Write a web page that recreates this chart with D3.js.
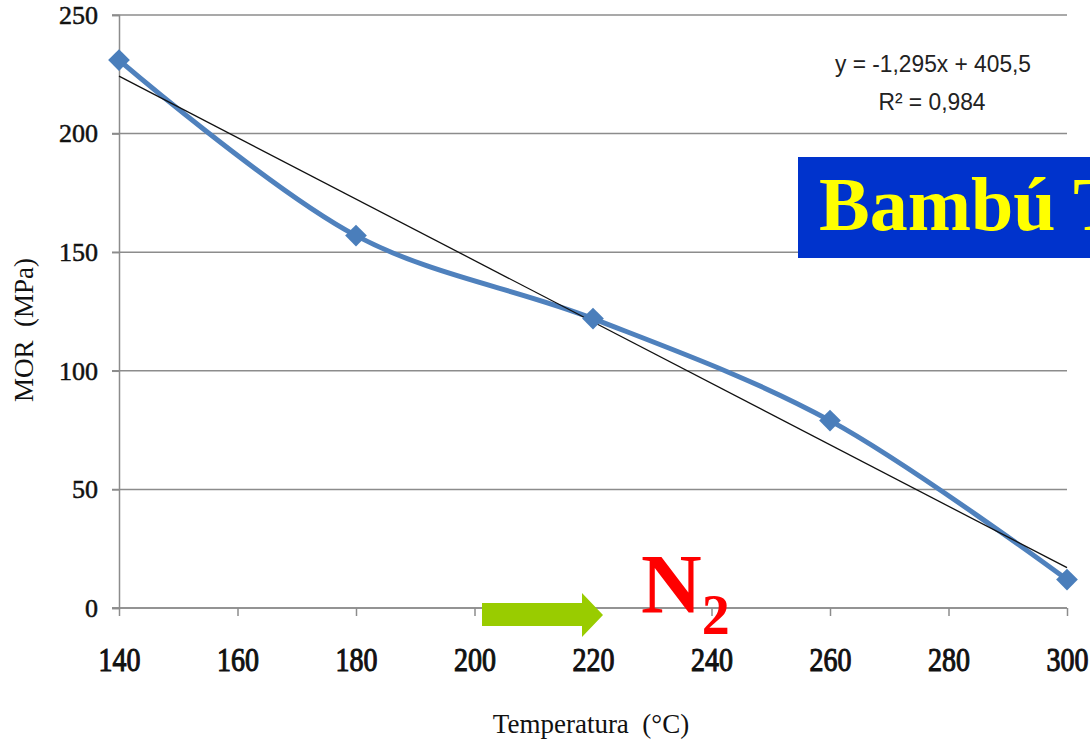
<!DOCTYPE html>
<html>
<head>
<meta charset="utf-8">
<script src="https://cdn.jsdelivr.net/npm/d3@7"></script>
<style>
  html, body { margin: 0; padding: 0; background: #fff; }
  svg { display: block; }
</style>
</head>
<body>
<svg id="chart" width="1090" height="747"></svg>
<script>
// ---- data ----
const temps = [140, 180, 220, 260, 300];
const mor = [231, 157, 122, 79, 12];
const xTicks = [140, 160, 180, 200, 220, 240, 260, 280, 300];
const yTicks = [0, 50, 100, 150, 200, 250];
const trendSlope = -1.295;
const trendIntercept = 405.5;
const eqLine1 = "y = -1,295x + 405,5";
const eqLine2 = "R² = 0,984";

const svg = d3.select("#chart");
const x = d3.scaleLinear().domain([140, 300]).range([119, 1067]);
const y = d3.scaleLinear().domain([0, 250]).range([608, 15]);

// gridlines
const grid = svg.append("g");
grid.selectAll("line").data(yTicks).join("line")
  .attr("x1", 112).attr("x2", 1067)
  .attr("y1", d => y(d)).attr("y2", d => y(d))
  .attr("stroke", "#8c8c8c").attr("stroke-width", 1.5);

// y axis
const yAxis = svg.append("g").attr("transform", "translate(119,0)")
  .call(d3.axisLeft(y).tickValues(yTicks).tickSize(7).tickPadding(14));
yAxis.select(".domain").attr("stroke", "#8c8c8c").attr("stroke-width", 1.5);
yAxis.selectAll(".tick line").attr("stroke", "#8c8c8c").attr("stroke-width", 1.5);
yAxis.selectAll(".tick text")
  .attr("font-family", "Liberation Serif, serif")
  .attr("font-size", 26).attr("fill", "#111")
  .attr("stroke", "#111").attr("stroke-width", 0.5);

// x axis
const xAxis = svg.append("g").attr("transform", "translate(0,608)")
  .call(d3.axisBottom(x).tickValues(xTicks).tickSize(8).tickPadding(0).tickSizeOuter(0));
xAxis.select(".domain").attr("stroke", "#8c8c8c").attr("stroke-width", 1.5)
  .attr("d", "M112,0H1067");
xAxis.selectAll(".tick line").attr("stroke", "#8c8c8c").attr("stroke-width", 1.5);
xAxis.selectAll(".tick text")
  .attr("font-family", "Liberation Serif, serif")
  .attr("font-size", 28).attr("fill", "#111")
  .attr("stroke", "#111").attr("stroke-width", 0.9)
  .attr("dy", null).attr("y", 0)
  .attr("transform", "translate(0,63) scale(1,1.2)");

// axis titles
svg.append("text")
  .attr("transform", "translate(33,330) rotate(-90)")
  .attr("text-anchor", "middle")
  .attr("font-family", "Liberation Serif, serif")
  .attr("font-size", 27).attr("fill", "#111")
  .text("MOR\u00a0\u00a0(MPa)");
svg.append("text")
  .attr("x", 591).attr("y", 733)
  .attr("text-anchor", "middle")
  .attr("font-family", "Liberation Serif, serif")
  .attr("font-size", 27).attr("fill", "#111")
  .text("Temperatura\u00a0\u00a0(°C)");

// series line
const pts = temps.map((t, i) => [t, mor[i]]);
svg.append("path")
  .datum(pts)
  .attr("fill", "none")
  .attr("stroke", "#4f81bd")
  .attr("stroke-width", 5)
  .attr("d", d3.line().x(d => x(d[0])).y(d => y(d[1])).curve(d3.curveCatmullRom.alpha(0.5)));

// trendline
const tx = [140, 300];
svg.append("path")
  .datum(tx.map(t => [t, trendSlope * t + trendIntercept]))
  .attr("fill", "none").attr("stroke", "#111").attr("stroke-width", 1.3)
  .attr("d", d3.line().x(d => x(d[0])).y(d => y(d[1])));

// markers
svg.append("g").selectAll("path").data(pts).join("path")
  .attr("transform", d => `translate(${x(d[0])},${y(d[1])})`)
  .attr("d", d3.symbol(d3.symbolDiamond2, 300)())
  .attr("fill", "#4a7ebb");

// equation
svg.append("text").attr("x", 933).attr("y", 72).attr("text-anchor", "middle")
  .attr("font-family", "Liberation Sans Narrow, Liberation Sans, sans-serif")
  .attr("font-size", 24).attr("fill", "#222")
  .attr("textLength", 196).attr("lengthAdjust", "spacingAndGlyphs")
  .text(eqLine1);
svg.append("text").attr("x", 932).attr("y", 110).attr("text-anchor", "middle")
  .attr("font-family", "Liberation Sans Narrow, Liberation Sans, sans-serif")
  .attr("font-size", 24).attr("fill", "#222")
  .attr("textLength", 107).attr("lengthAdjust", "spacingAndGlyphs")
  .text(eqLine2);

// blue label box
svg.append("rect").attr("x", 798).attr("y", 157).attr("width", 300).attr("height", 101)
  .attr("fill", "#0033cc");
svg.append("text").attr("x", 819).attr("y", 230)
  .attr("font-family", "Liberation Serif, serif").attr("font-weight", "bold")
  .attr("font-size", 76).attr("fill", "#ffff00")
  .text("Bambú T");

// green arrow
svg.append("path")
  .attr("d", "M482,603 H582 V593 L603,615 L582,637 V626 H482 Z")
  .attr("fill", "#99cc00");

// N2
const n2 = svg.append("text").attr("x", 641).attr("y", 613)
  .attr("font-family", "Liberation Serif, serif").attr("font-weight", "bold")
  .attr("fill", "#ff0000");
n2.append("tspan").attr("font-size", 84).text("N");
n2.append("tspan").attr("font-size", 56).attr("dy", 21).text("2");
</script>
</body>
</html>
